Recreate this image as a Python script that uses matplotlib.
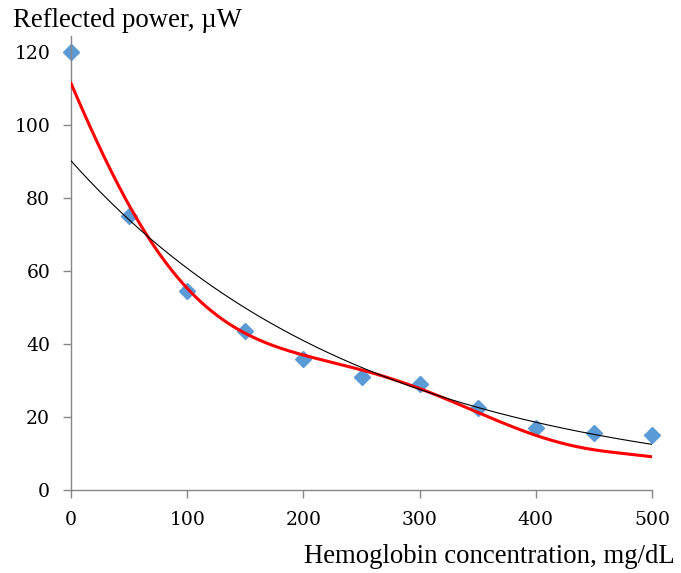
import numpy as np
import matplotlib.pyplot as plt

# hemoglobin concentration (mg/dL) and reflected power (uW)
conc = [0, 50, 100, 150, 200, 250, 300, 350, 400, 450, 500]
power = [120, 75, 54.5, 43.5, 36, 31, 29, 22.5, 17, 15.5, 15]

# red trend curve, every 25 mg/dL
red_x = [0, 25, 50, 75, 100, 125, 150, 175, 200, 225, 250,
         275, 300, 325, 350, 375, 400, 425, 450, 475, 500]
red_y = [111.4, 94, 77.5, 64.8, 55.5, 48.6, 43.5, 39.4, 36.2, 34.1, 32.5,
         31.2, 29.2, 25.0, 20.4, 17.3, 14.9, 12.9, 11.3, 10.0, 9.0]

x_ticks = [0, 100, 200, 300, 400, 500]
y_ticks = [0, 20, 40, 60, 80, 100, 120]

plt.rcParams['font.family'] = ['Liberation Serif', 'DejaVu Serif']

fig = plt.figure(figsize=(6.81, 5.73), dpi=100)
ax = fig.add_axes([71 / 681, 1 - 490 / 573, (652 - 71) / 681, (490 - 36) / 573])

x = np.array(conc, dtype=float)
y = np.array(power, dtype=float)
xs = np.linspace(0, 500, 400)

# polynomial trendline (red), smoothed through the read points
red_fit = np.polynomial.Polynomial.fit(red_x, red_y, 6)
# exponential trendline (black)
k, b = np.polyfit(x, np.log(y), 1)

ax.plot(x, y, 'D', color='#5B9BD5', ms=8.5, mec='#5B9BD5', zorder=2, clip_on=False)
ax.plot(xs, red_fit(xs), color='#FF0000', lw=2.2, zorder=3)
ax.plot(xs, np.exp(b) * np.exp(k * xs), color='black', lw=0.8, zorder=3)

ax.set_xlim(0, 500)
ax.set_ylim(0, 124.4)
ax.set_xticks(x_ticks)
ax.set_yticks(y_ticks)

for s in ['top', 'right']:
    ax.spines[s].set_visible(False)
for s in ['left', 'bottom']:
    ax.spines[s].set_color('#868686')
    ax.spines[s].set_linewidth(1.0)
ax.tick_params(direction='out', length=6, width=1.0, color='#868686', pad=9,
               labelsize=13.5, labelfontfamily='DejaVu Serif')

fig.text(13 / 681, 1 - 27 / 573, 'Reflected power, µW', fontsize=19.3,
         ha='left', va='baseline')
fig.text(675 / 681, 1 - 563 / 573, 'Hemoglobin concentration, mg/dL',
         fontsize=19.3, ha='right', va='baseline')

fig.savefig('out.png', dpi=100)
